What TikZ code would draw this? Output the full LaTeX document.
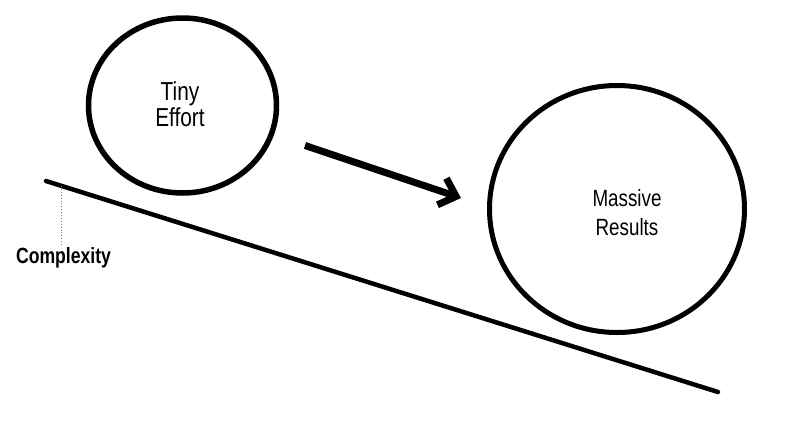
\documentclass[tikz,border=0pt]{standalone}
\usepackage{fontspec}
\setmainfont{Liberation Sans}[FakeStretch=0.8]
\usetikzlibrary{shapes.geometric,arrows.meta}

\begin{document}
\begin{tikzpicture}[x=1pt,y=-1pt,
  bubble/.style={draw,ellipse,line width=5.5pt,inner sep=0pt},
  bubbletext/.style={align=center,inner sep=0pt}]
\useasboundingbox (0,0) rectangle (790,421);

\node[bubble,minimum width=188pt,minimum height=175pt] (effort) at (182.5,105.5) {};
\node[bubbletext,font=\fontsize{26}{26}\selectfont] at (180,104) {Tiny\\Effort};

\node[bubble,line width=5pt,minimum width=255pt,minimum height=247pt] (results) at (617,209) {};
\node[bubbletext,font=\fontsize{23.5}{29}\selectfont] at (627,213) {Massive\\Results};

\coordinate (slope top) at (46,181);
\coordinate (slope bottom) at (718,392);
\draw[line width=4.5pt,line cap=round] (slope top) -- (slope bottom);

\coordinate (tick) at (61.7,186);
\node[font=\bfseries\fontsize{22}{22}\selectfont,anchor=base,inner sep=0pt] (complexity) at (63.5,263) {Complexity};
\draw[dotted,gray,line width=0.9pt] (tick) -- (tick |- complexity.north);

\coordinate (push start) at (305,145.5);
\coordinate (push end) at (461,198);
\draw[line width=7pt,-{Straight Barb[length=15pt,width=28pt]}] (push start) -- (push end);
\end{tikzpicture}
\end{document}
